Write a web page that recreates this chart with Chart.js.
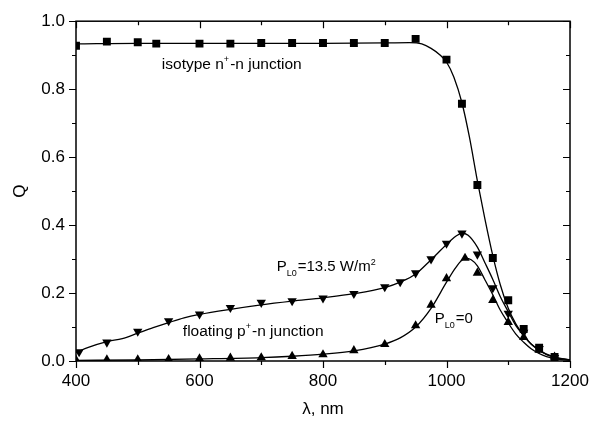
<!DOCTYPE html>
<html>
<head>
<meta charset="utf-8">
<script src="https://cdn.jsdelivr.net/npm/chart.js@4/dist/chart.umd.min.js"></script>
<style>
  html, body { margin: 0; padding: 0; background: #fff; }
  #wrap { width: 601px; height: 421px; }
</style>
</head>
<body>
<div id="wrap"><canvas id="chart" width="601" height="421"></canvas></div>
<script>
"use strict";

// measured points (wavelength nm, Q)
var isotype_L = [400, 450, 500, 530, 600, 650, 700, 750, 800, 850, 900, 950, 1000, 1025, 1050, 1075, 1100, 1125, 1150, 1175];
var isotype_Q = [0.928, 0.940, 0.938, 0.934, 0.934, 0.934, 0.936, 0.936, 0.936, 0.936, 0.936, 0.948, 0.887, 0.757, 0.518, 0.303, 0.179, 0.094, 0.039, 0.012];

var p135_L = [405, 450, 500, 550, 600, 650, 700, 750, 800, 850, 900, 925, 950, 975, 1000, 1025, 1050, 1075, 1100, 1125, 1150, 1175];
var p135_Q = [0.027, 0.055, 0.087, 0.118, 0.138, 0.157, 0.172, 0.177, 0.185, 0.198, 0.218, 0.233, 0.259, 0.300, 0.346, 0.376, 0.314, 0.215, 0.140, 0.084, 0.036, 0.010];

var p0_L = [400, 450, 500, 550, 600, 650, 700, 750, 800, 850, 900, 950, 975, 1000, 1030, 1050, 1075, 1100, 1125, 1150, 1175];
var p0_Q = [0.003, 0.004, 0.004, 0.005, 0.007, 0.009, 0.010, 0.014, 0.019, 0.031, 0.049, 0.104, 0.165, 0.243, 0.303, 0.259, 0.179, 0.114, 0.070, 0.032, 0.012];

// fitted curves
var fitIso_L = [400, 500, 600, 700, 800, 900, 940, 960, 975, 990, 1000, 1012, 1025, 1037, 1050, 1062, 1075, 1087, 1100, 1112, 1125, 1137, 1150, 1162, 1175, 1187, 1200];
var fitIso_Q = [0.933, 0.935, 0.935, 0.935, 0.935, 0.936, 0.937, 0.933, 0.920, 0.900, 0.880, 0.835, 0.760, 0.660, 0.530, 0.420, 0.310, 0.225, 0.155, 0.110, 0.075, 0.050, 0.032, 0.020, 0.012, 0.007, 0.004];

var fitP135_L = [400, 420, 450, 475, 500, 525, 550, 575, 600, 650, 700, 750, 800, 850, 900, 925, 950, 975, 1000, 1015, 1025, 1035, 1050, 1062, 1075, 1087, 1100, 1112, 1125, 1137, 1150, 1162, 1175, 1187, 1200];
var fitP135_Q = [0.025, 0.040, 0.057, 0.066, 0.082, 0.098, 0.113, 0.127, 0.137, 0.152, 0.165, 0.176, 0.186, 0.198, 0.216, 0.232, 0.256, 0.298, 0.343, 0.367, 0.376, 0.370, 0.335, 0.290, 0.240, 0.190, 0.145, 0.105, 0.075, 0.050, 0.032, 0.019, 0.011, 0.006, 0.003];

var fitP0_L = [400, 500, 600, 700, 750, 800, 850, 900, 925, 950, 975, 1000, 1015, 1030, 1040, 1050, 1062, 1075, 1087, 1100, 1112, 1125, 1137, 1150, 1162, 1175, 1187, 1200];
var fitP0_Q = [0.002, 0.003, 0.006, 0.010, 0.014, 0.020, 0.030, 0.050, 0.068, 0.100, 0.155, 0.232, 0.275, 0.302, 0.298, 0.280, 0.240, 0.195, 0.150, 0.112, 0.080, 0.055, 0.036, 0.022, 0.013, 0.007, 0.004, 0.002];

var xMin = 400, xMax = 1200;
var yMin = 0, yMax = 1.0;

function pts(_xs, _ys) {
  return _xs.map(function(_x, _i) { return {x: _x, y: _ys[_i]}; });
}

function fitSet(_xs, _ys) {
  return {
    data: pts(_xs, _ys),
    showLine: true,
    borderColor: '#000',
    borderWidth: 1.3,
    pointRadius: 0,
    fill: false,
    cubicInterpolationMode: 'monotone',
    order: 2
  };
}

function markSet(_xs, _ys, _style, _r, _rot) {
  return {
    data: pts(_xs, _ys),
    showLine: false,
    pointStyle: _style,
    pointRadius: _r,
    pointRotation: _rot,
    pointBackgroundColor: '#000',
    pointBorderColor: '#000',
    pointBorderWidth: 0,
    order: 1
  };
}

// label parts: [text, 'sup' | 'sub' | undefined]
var notes = [
  {x: 539, y: 0.858, size: 15.5, parts: [['isotype n'], ['+', 'sup'], ['-n junction']]},
  {x: 725, y: 0.264, size: 15, parts: [['P'], ['L0', 'sub'], ['=13.5 W/m'], ['2', 'sup']]},
  {x: 573, y: 0.075, size: 15.5, parts: [['floating p'], ['+', 'sup'], ['-n junction']]},
  {x: 981, y: 0.111, size: 15, parts: [['P'], ['L0', 'sub'], ['=0']]}
];

var framePlugin = {
  id: 'frame',
  afterDatasetsDraw: function(chart) {
    var ctx = chart.ctx;
    var a = chart.chartArea;
    var sx = chart.scales.x, sy = chart.scales.y;
    ctx.save();
    ctx.strokeStyle = '#000';
    ctx.lineWidth = 1.5;
    ctx.strokeRect(a.left, a.top, a.right - a.left, a.bottom - a.top);

    ctx.lineWidth = 1.2;
    ctx.beginPath();
    var v, p, len;
    for (v = xMin; v <= xMax; v += 100) {
      p = Math.round(sx.getPixelForValue(v)) + 0.5;
      len = (v % 200 === 0) ? 7 : 4;
      ctx.moveTo(p, a.bottom); ctx.lineTo(p, a.bottom + len);
      ctx.moveTo(p, a.top); ctx.lineTo(p, a.top + len);
    }
    for (var i = 0; i <= 10; i++) {
      v = i / 10;
      p = Math.round(sy.getPixelForValue(v)) + 0.5;
      len = (i % 2 === 0) ? 7 : 4;
      ctx.moveTo(a.left, p); ctx.lineTo(a.left - len, p);
      ctx.moveTo(a.right, p); ctx.lineTo(a.right - len, p);
    }
    ctx.stroke();

    // annotations
    ctx.fillStyle = '#000';
    ctx.textBaseline = 'alphabetic';
    ctx.textAlign = 'left';
    notes.forEach(function(_n) {
      var px = sx.getPixelForValue(_n.x);
      var py = sy.getPixelForValue(_n.y);
      _n.parts.forEach(function(_p) {
        var fs = _n.size, dy = 0;
        if (_p[1] === 'sup') { fs = Math.round(_n.size * 0.58); dy = -_n.size * 0.45; }
        if (_p[1] === 'sub') { fs = Math.round(_n.size * 0.58); dy = _n.size * 0.3; }
        ctx.font = fs + 'px "Liberation Sans", Arial, sans-serif';
        ctx.fillText(_p[0], px, py + dy);
        px += ctx.measureText(_p[0]).width + (_p[1] ? 1 : 0);
      });
    });
    ctx.restore();
  }
};

var tickFont = {family: '"Liberation Sans", Arial, sans-serif', size: 17};

new Chart(document.getElementById('chart'), {
  type: 'scatter',
  data: {
    datasets: [
      fitSet(fitIso_L, fitIso_Q),
      fitSet(fitP135_L, fitP135_Q),
      fitSet(fitP0_L, fitP0_Q),
      markSet(isotype_L, isotype_Q, 'rect', 5.6, 0),
      markSet(p135_L, p135_Q, 'triangle', 5.4, 180),
      markSet(p0_L, p0_Q, 'triangle', 5.4, 0)
    ]
  },
  options: {
    responsive: false,
    animation: false,
    layout: {padding: {top: 17, right: 31, left: 0, bottom: 0}},
    plugins: {legend: {display: false}, tooltip: {enabled: false}},
    scales: {
      x: {
        type: 'linear', min: xMin, max: xMax,
        border: {display: false},
        grid: {display: false, drawTicks: false},
        ticks: {
          stepSize: 100, padding: 10, color: '#000', font: tickFont, maxRotation: 0,
          callback: function(v) { return v % 200 === 0 ? String(v) : ''; }
        },
        title: {display: true, text: 'λ, nm', color: '#000', font: tickFont, padding: {top: 4, bottom: 1}},
        afterFit: function(s) { s.height = 60; }
      },
      y: {
        type: 'linear', min: yMin, max: yMax,
        border: {display: false},
        grid: {display: false, drawTicks: false},
        ticks: {
          stepSize: 0.1, padding: 11, color: '#000', font: tickFont,
          callback: function(v) {
            var k = Math.round(v * 10);
            return k % 2 === 0 ? (k / 10).toFixed(1) : '';
          }
        },
        title: {display: true, text: 'Q', color: '#000', font: tickFont, padding: {top: 10, bottom: 4}},
        afterFit: function(s) { s.width = 76; }
      }
    }
  },
  plugins: [framePlugin]
});
</script>
</body>
</html>
